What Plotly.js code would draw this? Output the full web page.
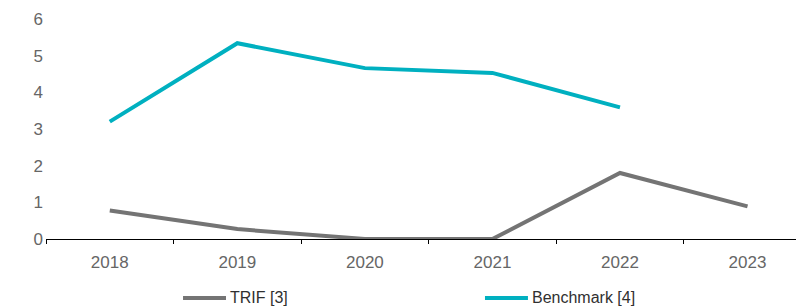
<!DOCTYPE html>
<html>
<head>
<meta charset="utf-8">
<script src="https://cdn.plot.ly/plotly-3.0.1.min.js"></script>
<style>html,body{margin:0;padding:0;background:#fff;}#chart{width:796px;height:308px;}</style>
</head>
<body>
<div id="chart"></div>
<script>
const years = ["2018", "2019", "2020", "2021", "2022", "2023"];
const trif = [0.78, 0.27, 0.0, 0.0, 1.8, 0.89];
const benchYears = ["2018", "2019", "2020", "2021", "2022"];
const benchmark = [3.2, 5.34, 4.66, 4.53, 3.59];
const yTicks = [0, 1, 2, 3, 4, 5, 6];
const seriesNames = ["TRIF [3]", "Benchmark [4]"];
const seriesColors = ["#747474", "#00B0C0"];

const traces = [
  {x: years, y: trif, type: "scatter", mode: "lines", name: seriesNames[0],
   line: {color: seriesColors[0], width: 4}, cliponaxis: false, showlegend: false},
  {x: benchYears, y: benchmark, type: "scatter", mode: "lines", name: seriesNames[1],
   line: {color: seriesColors[1], width: 4}, cliponaxis: false, showlegend: false}
];

// legend drawn below the plot (paper coordinates)
const legendX = [0.1827, 0.5853];   // start of each legend key line
const legendY = -0.268;
const keyLen = 0.0573;
const shapes = [];
const annotations = [];
seriesNames.forEach((n, i) => {
  shapes.push({type: "line", xref: "paper", yref: "paper",
    x0: legendX[i], x1: legendX[i] + keyLen, y0: legendY, y1: legendY,
    line: {color: seriesColors[i], width: 4}});
  annotations.push({xref: "paper", yref: "paper", x: legendX[i] + keyLen + 0.003, y: legendY,
    xanchor: "left", yanchor: "middle", showarrow: false, text: n,
    font: {size: 16, color: "#303030"}});
});

const layout = {
  width: 796, height: 308,
  margin: {l: 46, r: 0, t: 19, b: 69},
  paper_bgcolor: "#fff", plot_bgcolor: "#fff",
  font: {family: "Liberation Sans, Arial, sans-serif", color: "#666666", size: 17},
  showlegend: false,
  shapes: shapes,
  annotations: annotations,
  xaxis: {type: "category", range: [-0.5, 5.38], showgrid: false, zeroline: false,
          showline: true, linecolor: "#000", linewidth: 1,
          ticks: "outside", tickson: "boundaries", ticklen: 4, tickcolor: "#000",
          ticklabelstandoff: 8, automargin: false,
          tickfont: {size: 17, color: "#666666"}, fixedrange: true},
  yaxis: {range: [0, 6], tickvals: yTicks, showgrid: false, zeroline: false, showline: false,
          ticks: "", ticklabelstandoff: 2, automargin: false,
          tickfont: {size: 17, color: "#666666"}, fixedrange: true}
};

Plotly.newPlot("chart", traces, layout, {displayModeBar: false, staticPlot: true});
</script>
</body>
</html>
